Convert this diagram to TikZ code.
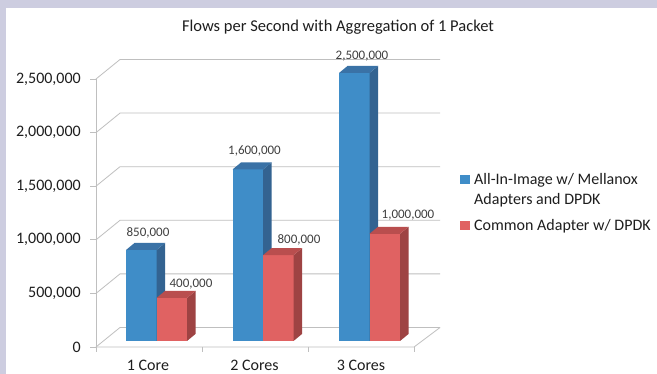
\documentclass[tikz,border=0pt]{standalone}
\usepackage{fontspec}
\setmainfont{Carlito}
\usetikzlibrary{positioning}
\definecolor{framelav}{HTML}{CDCDE0}
\definecolor{gridgray}{HTML}{BFBFBF}
\definecolor{textdark}{HTML}{1E1E1E}
\definecolor{textgray}{HTML}{404040}
\definecolor{bluefront}{HTML}{3F8DC8}
\definecolor{blueside}{HTML}{336391}
\definecolor{bluetop}{HTML}{3A72A6}
\definecolor{redfront}{HTML}{E06262}
\definecolor{redside}{HTML}{9E4343}
\definecolor{redtop}{HTML}{B94E4E}
% one 3D bar: left edge, top, colour prefix
\newcommand{\drawbar}[3]{%
  \fill[#3front] (#1,341) rectangle ({#1+30.5},#2);
  \fill[#3side] ({#1+30.5},341) -- ++(8.5,-7) -- ({#1+39},{#2-7}) -- ({#1+30.5},#2) -- cycle;
  \fill[#3top] (#1,#2) -- ++(8.5,-7) -- ++(30.5,0) -- ++(-8.5,7) -- cycle;}

\begin{document}
\begin{tikzpicture}[x=1pt, y=-1pt,
    gridline/.style={draw=gridgray, line width=0.8pt},
    axislabel/.style={font=\fontsize{16}{18}\selectfont, text=textdark, anchor=east, inner sep=0pt},
    valuelabel/.style={font=\fontsize{13}{15}\selectfont, text=textgray, inner sep=0pt},
    catlabel/.style={font=\fontsize{16}{18}\selectfont, text=textdark, inner sep=0pt},
    legendtext/.style={font=\fontsize{16}{20}\selectfont, text=textdark, anchor=west, align=left, inner sep=0pt}]
  % Background frame
  \fill[framelav] (0,0) rectangle (657,374);
  \fill[white] (6,8) rectangle (657,374);
  \useasboundingbox (0,0) rectangle (657,374);
  % Title
  \node[font=\fontsize{16.5}{19}\selectfont, text=textdark] (title) at (338,27) {Flows per Second with Aggregation of 1 Packet};
  % Walls, gridlines and value axis
  \foreach \k/\lab in {0/0, 1/{500,000}, 2/{1,000,000}, 3/{1,500,000}, 4/{2,000,000}, 5/{2,500,000}} {
    \draw[gridline] (96,{347-53.6*\k}) -- ++(24,-19.5) -- (440,{327.5-53.6*\k});
    \draw[gridline] (90,{347-53.6*\k}) -- (96,{347-53.6*\k});
    \node[axislabel] (ylab\k) at (81,{347-53.6*\k}) {\lab};
  }
  \draw[gridline] (96,79) -- (96,347);
  % Floor
  \draw[gridline] (96,347) -- (414,347) -- (440,327.5);
  \foreach \x in {96,202,308,414}
    \draw[gridline] (\x,347) -- (\x,352);
  % Bars
  \drawbar{126}{250}{blue}
  \drawbar{156.5}{298}{red}
  \drawbar{232.5}{169.5}{blue}
  \drawbar{263}{255.2}{red}
  \drawbar{339}{73}{blue}
  \drawbar{369.5}{233.8}{red}
  % Data labels
  \node[valuelabel] (val1a) at (148,233) {850,000};
  \node[valuelabel] (val1b) at (191,284) {400,000};
  \node[valuelabel] (val2a) at (254.5,151) {1,600,000};
  \node[valuelabel] (val2b) at (299,240) {800,000};
  \node[valuelabel] (val3a) at (362,56) {2,500,000};
  \node[valuelabel] (val3b) at (408,215) {1,000,000};
  % Category labels
  \node[catlabel] (cat1) at (148,365) {1 Core};
  \node[catlabel] (cat2) at (254.5,365) {2 Cores};
  \node[catlabel] (cat3) at (361,365) {3 Cores};
  % Legend
  \fill[bluefront] (460,175.5) rectangle (470,184.5);
  \node[legendtext] (leg1) at (474,190) {All-In-Image w/ Mellanox\\Adapters and DPDK};
  \fill[redfront] (460,221.5) rectangle (470,230.5);
  \node[legendtext] (leg2) at (474,226) {Common Adapter w/ DPDK};
\end{tikzpicture}
\end{document}
